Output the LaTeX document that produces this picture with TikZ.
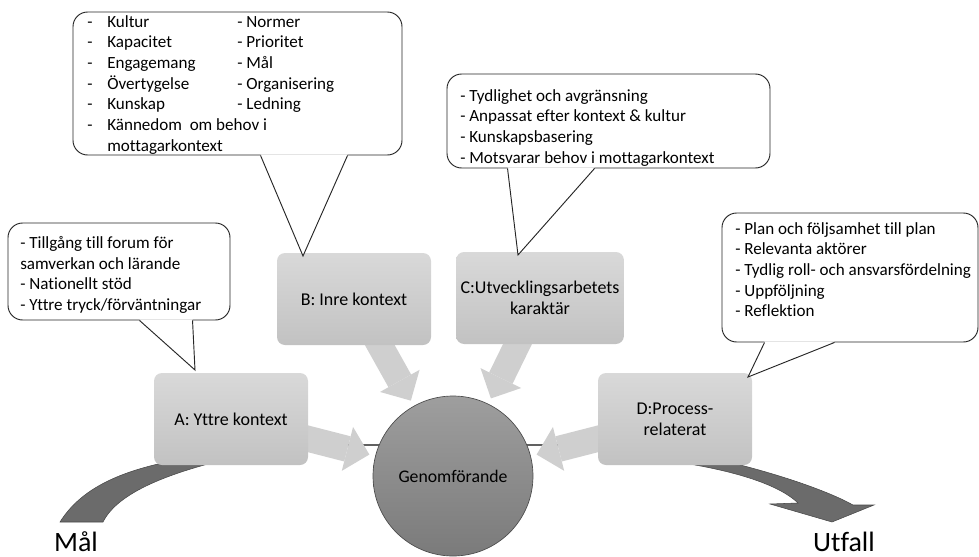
\documentclass[tikz,border=0pt]{standalone}
\usepackage{fontspec}
\setmainfont[Ligatures=NoCommon]{Carlito}
\usepackage{tikz}
\usetikzlibrary{arrows.meta,calc}

\pgfdeclarelayer{bg}
\pgfsetlayers{bg,main}

\tikzset{
  part/.style={rounded corners=6pt, top color=gray!30, bottom color=gray!48,
    minimum width=115.5pt, minimum height=69pt, align=center,
    font=\fontsize{13.5}{15.5}\selectfont},
  hub/.style={circle, minimum size=120pt, draw=black!70, line width=0.5pt,
    top color=black!38, bottom color=black!52, font=\fontsize{13.3}{15}\selectfont},
  endlabel/.style={anchor=base, font=\fontsize{21}{25}\selectfont},
  flow/.style={draw=gray!38, line width=19.5pt,
    -{Triangle[length=17pt, width=34pt, line width=0pt]}, shorten >=4.5pt},
  band/.style={fill=black!58, draw=black!72, line width=0.4pt},
  axisline/.style={draw=black!62, line width=1.3pt},
  bubble/.style={draw=black!85, line width=0.7pt, fill=white, rounded corners=11pt},
  bubbleline/.style={draw=black!85, line width=0.7pt},
  notes/.style={anchor=north west, align=left, inner sep=0pt,
    font=\fontsize{12.8}{15.5}\selectfont},
}

\begin{document}
\begin{tikzpicture}[x=0.75pt,y=-0.75pt]
  \useasboundingbox (0,0) rectangle (979,557);

  % parts and the centre
  \node[part] (A) at (231,419) {A: Yttre kontext};
  \node[part] (B) at (354,299) {B: Inre kontext};
  \node[part] (C) at (540,298) {C:Utvecklingsarbetets\\karaktär};
  \node[part] (D) at (675,419) {D:Process-\\relaterat};
  \node[hub] (G) at (453,476) {Genomförande};

  \node[endlabel] (mal) at (76,551) {Mål};
  \node[endlabel] (utfall) at (844,551) {Utfall};

  \begin{pgfonlayer}{bg}
    \draw[axisline] ($(A.east)+(0,26)$) -- ($(D.west)+(0,26)$);
    % the long arc, seen only at its two ends
    \filldraw[band] (60,522) .. controls (85,482) and (135,466) .. (200,456)
      -- (240,456) .. controls (170,472) and (118,492) .. (103,522) -- cycle;
    \filldraw[band] (670,461) .. controls (720,468) and (775,481) .. (798,503)
      -- (770,504) -- (832,522) -- (874,505) -- (853,505)
      .. controls (830,492) and (780,474) .. (720,460) -- cycle;
    \foreach \p in {A,B,C,D}
      \draw[flow] (\p.center) -- (G);
  \end{pgfonlayer}

  % callouts
  \node[bubble, minimum width=166.5pt, minimum height=72.75pt] (cA) at (119,271.5) {};
  \fill[white] ($(cA.south west)+(132,-1)$) -- (195,370) -- ($(cA.south west)+(185,-1)$) -- cycle;
  \draw[bubbleline] ($(cA.south west)+(132,0)$) -- (195,370) -- ($(cA.south west)+(185,0)$);
  \node[notes] (nA) at (20,236) {- Tillgång till forum för\\samverkan och lärande\\- Nationellt stöd\\- Yttre tryck/förväntningar};

  \node[bubble, minimum width=246.75pt, minimum height=107.25pt] (cB) at (237.5,83.5) {};
  \fill[white] ($(cB.south west)+(188,-1)$) -- (303,256) -- ($(cB.south west)+(275,-1)$) -- cycle;
  \draw[bubbleline] ($(cB.south west)+(188,0)$) -- (303,256) -- ($(cB.south west)+(275,0)$);
  \node[notes] (nB) at (87,12.5) {%
    \begin{tabular}{@{}p{15pt}@{}p{97.5pt}@{}l@{}}
      - & Kultur & - Normer\\
      - & Kapacitet & - Prioritet\\
      - & Engagemang & - Mål\\
      - & Övertygelse & - Organisering\\
      - & Kunskap & - Ledning\\
      - & \multicolumn{2}{@{}l@{}}{Kännedom\ \ om behov i}\\
        & \multicolumn{2}{@{}l@{}}{mottagarkontext}
    \end{tabular}};

  \node[bubble, minimum width=242.25pt, minimum height=70.5pt] (cC) at (608.5,121) {};
  \fill[white] ($(cC.south west)+(61,-1)$) -- (518,255) -- ($(cC.south west)+(148,-1)$) -- cycle;
  \draw[bubbleline] ($(cC.south west)+(61,0)$) -- (518,255) -- ($(cC.south west)+(148,0)$);
  \node[notes] (nC) at (460,89) {- Tydlighet och avgränsning\\- Anpassat efter kontext \& kultur\\- Kunskapsbasering\\- Motsvarar behov i mottagarkontext};

  \node[bubble, minimum width=192pt, minimum height=96.75pt] (cD) at (850,277.5) {};
  \fill[white] ($(cD.south west)+(43,-1)$) -- (748,377) -- ($(cD.south west)+(113,-1)$) -- cycle;
  \draw[bubbleline] ($(cD.south west)+(43,0)$) -- (748,377) -- ($(cD.south west)+(113,0)$);
  \node[notes] (nD) at (735,222) {- Plan och följsamhet till plan\\- Relevanta aktörer\\- Tydlig roll- och ansvarsfördelning\\- Uppföljning\\- Reflektion};
\end{tikzpicture}
\end{document}
